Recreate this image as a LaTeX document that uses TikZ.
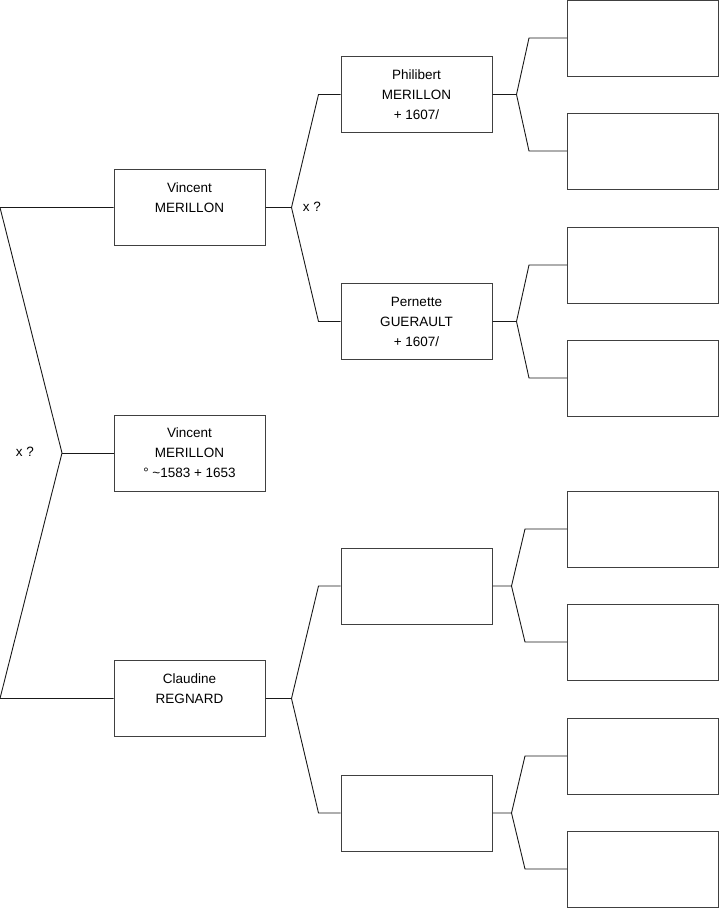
\documentclass[tikz,border=0pt]{standalone}
\usepackage{fontspec}
\setmainfont{Liberation Sans}
\usetikzlibrary{positioning,calc}
\tikzset{
  person/.style={
    draw=black!75,
    line width=1pt,
    minimum width=151pt,
    minimum height=76pt,
    inner sep=0pt,
    align=center,
    font=\fontsize{13.5}{20}\selectfont},
  link/.style={line width=0.9pt, black!90},
  union/.style={font=\fontsize{13.5}{16}\selectfont, inner sep=0pt}
  }

\begin{document}
\begin{tikzpicture}[x=1pt,y=-1pt]
    \useasboundingbox (0,0) rectangle (719,908);
    % generation 1
    \node[person] (vfather) at (189.5,207.5) {Vincent\\MERILLON\\\phantom{M}};
    \node[person] (vincent) at (189.5,453) {Vincent\\MERILLON\\° \textasciitilde1583 + 1653};
    \node[person] (claudine) at (189.5,698.5) {Claudine\\REGNARD\\\phantom{M}};
    % generation 2
    \node[person] (philibert) at (416.5,94.5) {Philibert\\MERILLON\\+ 1607/};
    \node[person] (pernette) at (416.5,321.5) {Pernette\\GUERAULT\\+ 1607/};
    \node[person] (unkA) at (416.5,586) {};
    \node[person] (unkB) at (416.5,813) {};
    % generation 3
    \foreach \y [count=\i] in {38,151,265,378,529,642,756,869}
      \node[person] (g\i) at (643,\y) {};
    % unions
    \node[union] (u1) at (25,452) {x ?};
    \node[union] (u2) at (312,207) {x ?};
    % connectors
    \coordinate (rootA) at (0,207.5);
    \coordinate (rootB) at (0,698.5);
    \coordinate (rootF) at (62,453);
    \draw[link] (vfather.west) -- (rootA) -- (rootF) -- (rootB) -- (claudine.west);
    \draw[link] (rootF) -- (vincent.west);
    \foreach \p/\a/\b in {vfather/philibert/pernette, claudine/unkA/unkB} {
      \draw[link] (\p.east) -- ++(26,0) coordinate (fk)
        -- ([xshift=-22]\a.west) -- (\a.west);
      \draw[link] (fk) -- ([xshift=-22]\b.west) -- (\b.west);
    }
    \foreach \p/\a/\b/\f/\s in {philibert/g1/g2/24/38, pernette/g3/g4/24/38,
                                unkA/g5/g6/19/42, unkB/g7/g8/19/42} {
      \draw[link] (\p.east) -- ++(\f,0) coordinate (fk)
        -- ([xshift=-\s]\a.west) -- (\a.west);
      \draw[link] (fk) -- ([xshift=-\s]\b.west) -- (\b.west);
    }
\end{tikzpicture}
\end{document}
